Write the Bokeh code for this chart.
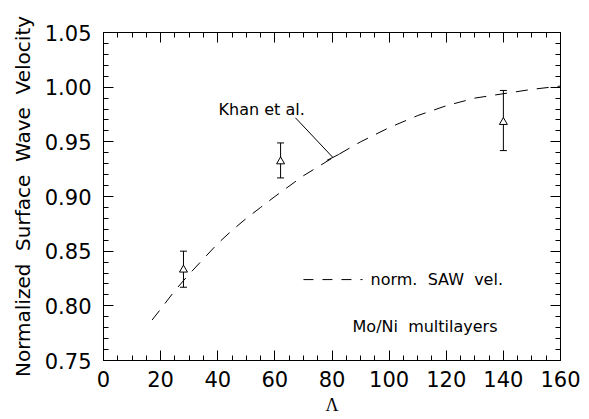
from bokeh.plotting import figure
from bokeh.models import (LinearAxis, SingleIntervalTicker, PrintfTickFormatter, Range1d,
                          Whisker, TeeHead, ColumnDataSource, Label)
from bokeh.embed import file_html
from bokeh.resources import INLINE

# ---- data ----
exp_lambda = [28, 62, 140]
exp_vel = [0.833, 0.932, 0.968]
exp_upper = [0.850, 0.949, 0.997]
exp_lower = [0.817, 0.917, 0.942]

curve_lambda = [17, 20, 25, 30, 35, 40, 45, 50, 55, 60, 70, 80, 90, 100, 110, 120, 130, 140, 150, 160]
curve_vel = [0.787, 0.797, 0.814, 0.829, 0.843, 0.857, 0.869, 0.880, 0.890, 0.900,
             0.919, 0.935, 0.950, 0.963, 0.974, 0.983, 0.990, 0.994, 0.998, 1.001]

# annotation anchors (data units)
khan_text_xy = (40.3, 0.980)
khan_line_x0, khan_line_y0, khan_line_x1, khan_line_y1 = 67.2, 0.972, 80.2, 0.936
khan_cap_x0, khan_cap_y0, khan_cap_x1, khan_cap_y1 = 78.2, 0.933, 82.4, 0.9385
legend_line_x = [70, 90.7]
legend_line_y = [0.824, 0.824]
legend_text_xy = (93.5, 0.824)
sample_text_xy = (87.2, 0.781)

FONT = "DejaVu Sans"
SP = "\u00a0 "

p = figure(width=589, height=419, output_backend="svg", toolbar_location=None,
           x_range=Range1d(0, 160), y_range=Range1d(0.75, 1.05),
           min_border_left=103, min_border_right=29, min_border_top=32, min_border_bottom=59,
           x_axis_label="Λ",
           y_axis_label="Normalized" + SP + "Surface" + SP + "Wave" + SP + "Velocity")
p.grid.visible = False
p.outline_line_color = "black"
p.outline_line_width = 1
p.background_fill_color = "white"
p.border_fill_color = "white"

xt = SingleIntervalTicker(interval=20, num_minor_ticks=4)
yt = SingleIntervalTicker(interval=0.05, num_minor_ticks=5)

def style_axis(ax, ticker, labels=True):
    ax.ticker = ticker
    ax.major_tick_in = 10
    ax.major_tick_out = 0
    ax.minor_tick_in = 5
    ax.minor_tick_out = 0
    ax.axis_line_color = "black"
    ax.major_tick_line_color = "black"
    ax.minor_tick_line_color = "black"
    if labels:
        ax.major_label_text_font = FONT
        ax.major_label_text_font_size = "21px"
        ax.major_label_text_color = "black"
    else:
        ax.major_label_text_font_size = "0px"
        ax.major_label_text_color = None

xa = p.xaxis[0]
ya = p.yaxis[0]
style_axis(xa, xt)
style_axis(ya, yt)
ya.formatter = PrintfTickFormatter(format="%.2f")
xa.major_label_standoff = 10
ya.major_label_standoff = 12
xa.axis_label_text_font = "Liberation Serif"
xa.axis_label_text_font_size = "18px"
xa.axis_label_text_font_style = "normal"
xa.axis_label_standoff = 5
xa.axis_label_text_color = "black"
ya.axis_label_text_font = FONT
ya.axis_label_text_font_size = "20px"
ya.axis_label_text_font_style = "normal"
ya.axis_label_standoff = 7
ya.axis_label_text_color = "black"

top = LinearAxis()
right = LinearAxis()
style_axis(top, SingleIntervalTicker(interval=20, num_minor_ticks=4), labels=False)
style_axis(right, SingleIntervalTicker(interval=0.05, num_minor_ticks=5), labels=False)
top.major_label_standoff = 0
right.major_label_standoff = 0
p.add_layout(top, "above")
p.add_layout(right, "right")

# theory curve
p.line(curve_lambda, curve_vel, line_color="black", line_width=1, line_dash="12 9")

# experimental data with error bars
src = ColumnDataSource(dict(x=exp_lambda, y=exp_vel, upper=exp_upper, lower=exp_lower))
w = Whisker(base="x", upper="upper", lower="lower", source=src, line_color="black", line_width=1,
            upper_head=TeeHead(size=7, line_color="black", line_width=1),
            lower_head=TeeHead(size=7, line_color="black", line_width=1))
p.add_layout(w)
p.scatter("x", "y", source=src, marker="triangle", size=8, fill_color="white",
          line_color="black", line_width=1)

# Khan et al. annotation
p.segment(x0=[khan_line_x0, khan_cap_x0], y0=[khan_line_y0, khan_cap_y0],
          x1=[khan_line_x1, khan_cap_x1], y1=[khan_line_y1, khan_cap_y1],
          line_color="black", line_width=1)
p.add_layout(Label(x=khan_text_xy[0], y=khan_text_xy[1], text="Khan et al.",
                   text_font=FONT, text_font_size="16px", text_baseline="middle",
                   text_color="black"))

# legend
p.line(legend_line_x, legend_line_y, line_color="black", line_width=1, line_dash="10 9")
p.add_layout(Label(x=legend_text_xy[0], y=legend_text_xy[1], text="norm." + SP + "SAW" + SP + "vel.",
                   text_font=FONT, text_font_size="16px", text_baseline="middle",
                   text_color="black"))
p.add_layout(Label(x=sample_text_xy[0], y=sample_text_xy[1], text="Mo/Ni" + SP + "multilayers",
                   text_font=FONT, text_font_size="16px", text_baseline="middle",
                   text_color="black"))

open("out.html", "w").write(file_html(p, INLINE))
